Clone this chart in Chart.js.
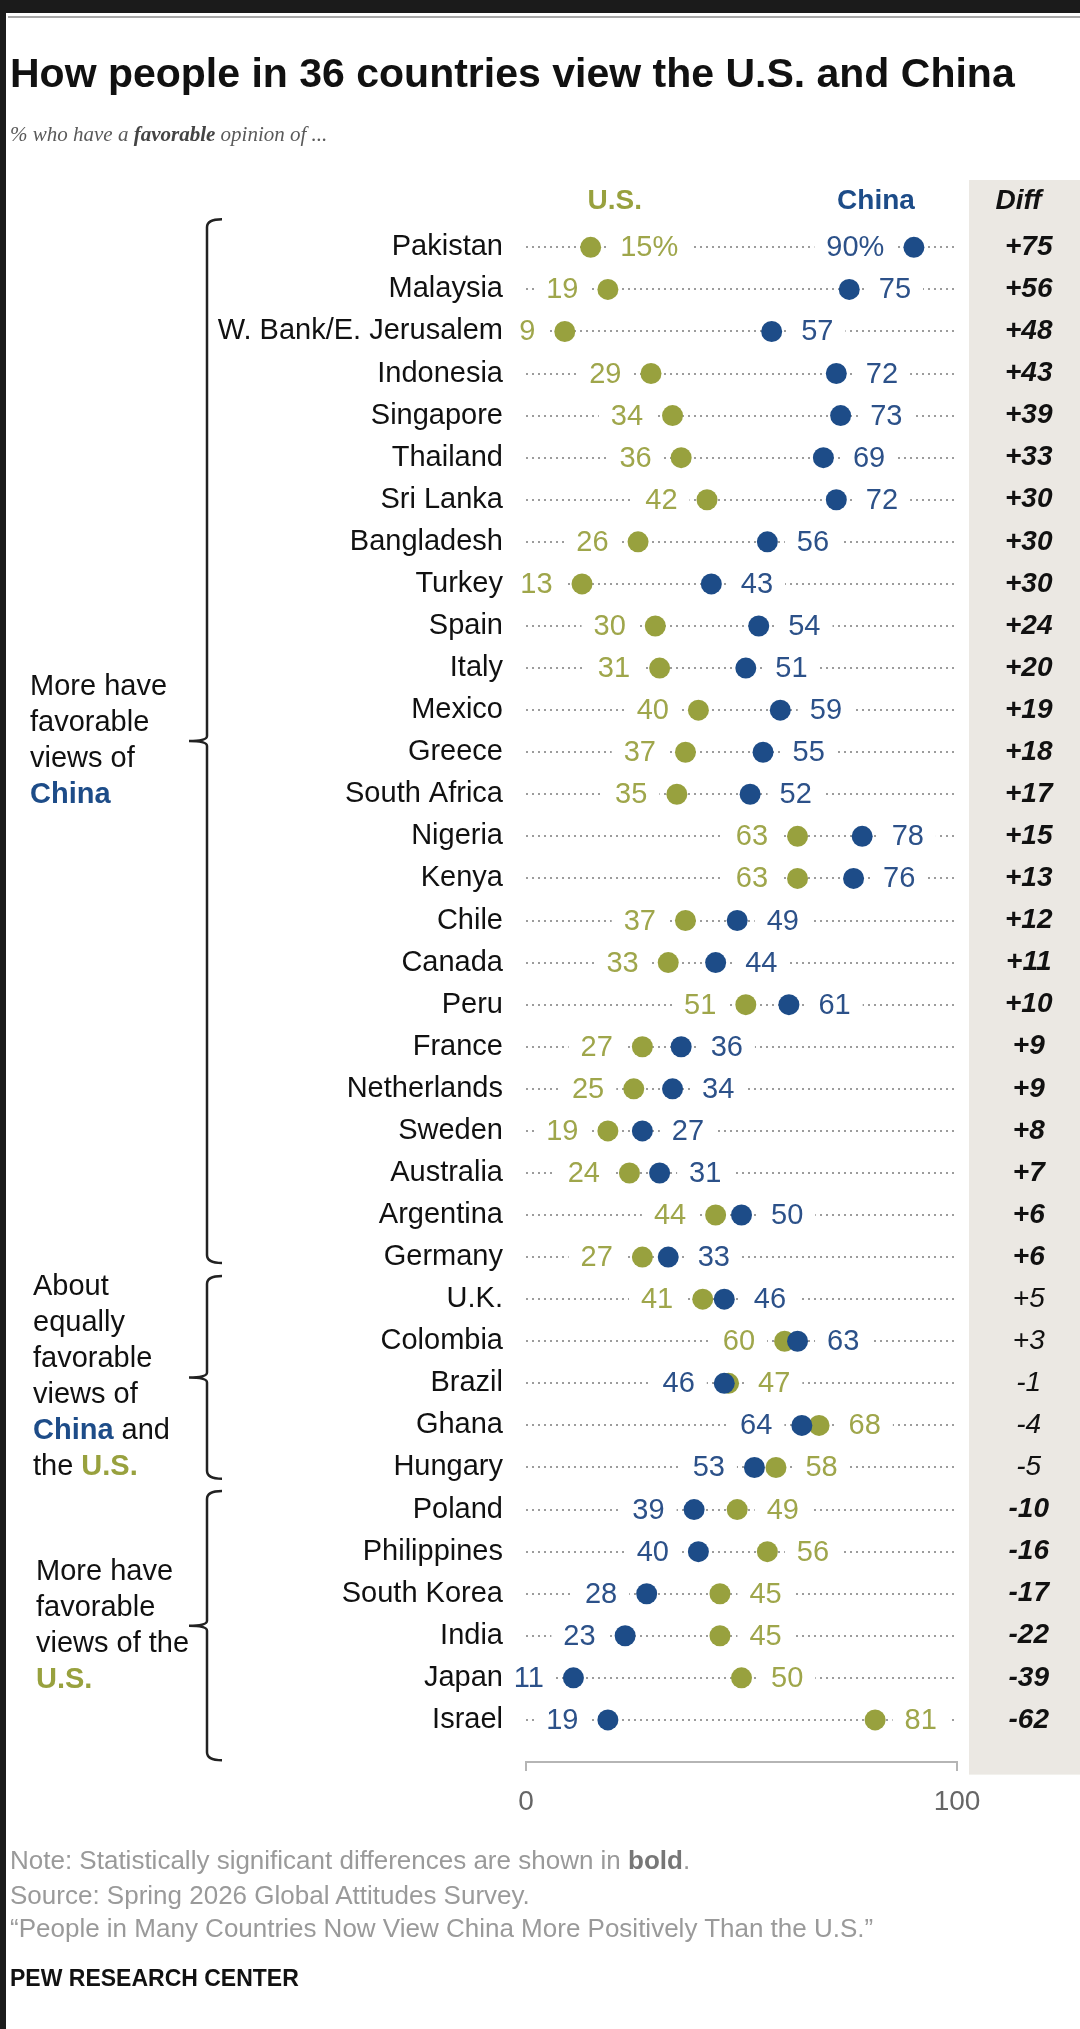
<!DOCTYPE html>
<html>
<head>
<meta charset="utf-8">
<title>How people in 36 countries view the U.S. and China</title>
<script src="https://cdn.jsdelivr.net/npm/chart.js@4.4.1/dist/chart.umd.min.js"></script>
<style>
  body { margin: 0; background: #fff; }
  #wrap { position: relative; width: 1080px; height: 2029px; overflow: hidden; background: #fff;
          font-family: "Liberation Sans", Arial, sans-serif; }
  #chart { position: absolute; left: 0; top: 0; }
  .frame-top { position: absolute; left: 0; top: 0; width: 1080px; height: 13px; background: #1b1b1b; }
  .frame-left { position: absolute; left: 0; top: 0; width: 6px; height: 2029px; background: #1b1b1b; }
  .rule { position: absolute; left: 8px; top: 16px; width: 1072px; height: 2px; background: #a8a8a8; }
  .txt { position: absolute; left: 10px; white-space: nowrap; }
  #title { top: 53px; font-size: 41px; line-height: 41px; font-weight: bold; color: #111; }
  #subtitle { top: 123px; font-family: "Liberation Serif", serif; font-style: italic; font-size: 21px;
              line-height: 22px; color: #5a5a5a; }
  #subtitle b { color: #444; }
  .foot { font-size: 26px; line-height: 26px; color: #9a9a9a; }
  .foot b { color: #777; }
  #pew { top: 1967px; font-size: 23px; line-height: 23px; font-weight: bold; color: #111; }
</style>
</head>
<body>
<div id="wrap">
  <canvas id="chart" width="1080" height="2029"></canvas>
  <div class="frame-top"></div>
  <div class="frame-left"></div>
  <div class="rule"></div>
  <div id="title" class="txt">How people in 36 countries view the U.S. and China</div>
  <div id="subtitle" class="txt">% who have a <b>favorable</b> opinion of ...</div>
  <div class="txt foot" style="top:1847px">Note: Statistically significant differences are shown in <b>bold</b>.</div>
  <div class="txt foot" style="top:1882px">Source: Spring 2026 Global Attitudes Survey.</div>
  <div class="txt foot" style="top:1915px">“People in Many Countries Now View China More Positively Than the U.S.”</div>
  <div id="pew" class="txt">PEW RESEARCH CENTER</div>
</div>
<script>
// data
const countries = ["Pakistan", "Malaysia", "W. Bank/E. Jerusalem", "Indonesia", "Singapore", "Thailand",
  "Sri Lanka", "Bangladesh", "Turkey", "Spain", "Italy", "Mexico", "Greece", "South Africa", "Nigeria",
  "Kenya", "Chile", "Canada", "Peru", "France", "Netherlands", "Sweden", "Australia", "Argentina",
  "Germany", "U.K.", "Colombia", "Brazil", "Ghana", "Hungary", "Poland", "Philippines", "South Korea",
  "India", "Japan", "Israel"];
const usValues = [15, 19, 9, 29, 34, 36, 42, 26, 13, 30, 31, 40, 37, 35, 63, 63, 37, 33, 51, 27, 25, 19, 24, 44,
  27, 41, 60, 47, 68, 58, 49, 56, 45, 45, 50, 81];
const chinaValues = [90, 75, 57, 72, 73, 69, 72, 56, 43, 54, 51, 59, 55, 52, 78, 76, 49, 44, 61, 36, 34, 27, 31, 50,
  33, 46, 63, 46, 64, 53, 39, 40, 28, 23, 11, 19];
const diffLabels = ["+75", "+56", "+48", "+43", "+39", "+33", "+30", "+30", "+30", "+24", "+20", "+19", "+18",
  "+17", "+15", "+13", "+12", "+11", "+10", "+9", "+9", "+8", "+7", "+6", "+6", "+5", "+3", "-1", "-4", "-5",
  "-10", "-16", "-17", "-22", "-39", "-62"];
const diffSignificant = countries.map((c, i) => !(i >= 25 && i <= 29));
const xTicks = [0, 100];

// bracket groups (row units)
const groupTop = [-0.67, 24.45, 29.56];
const groupBottom = [24.14, 29.27, 35.96];
const groupLines = [
  [[["More have"]], [["favorable"]], [["views of"]], [["China", "cn"]]],
  [[["About"]], [["equally"]], [["favorable"]], [["views of"]], [["China", "cn"], [" and"]], [["the "], ["U.S.", "us"]]],
  [[["More have"]], [["favorable"]], [["views of the"]], [["U.S.", "us"]]]
];
const groupX = [30, 33, 36];

const US = "#98a13e", CN = "#1d4c88";
const US_TXT = "#9fa64b", CN_TXT = "#2c5189";
const FONT = '"Liberation Sans", Arial, sans-serif';
const R = 10.5, GAP = 19, PAD = 12;

Chart.defaults.font.family = FONT;

function valueLabels(chart) {
  const { ctx, scales: { x, y } } = chart;
  ctx.font = "29px " + FONT;
  const out = [];
  countries.forEach((c, i) => {
    const us = { v: usValues[i], color: US_TXT };
    const cn = { v: chinaValues[i], color: CN_TXT };
    const lo = us.v <= cn.v ? us : cn;
    const hi = lo === us ? cn : us;
    const inside = i === 0; // first row: % sign, labels between the dots
    const suffix = i === 0 ? "%" : "";
    const yy = y.getPixelForValue(i);
    [[lo, inside ? 1 : -1], [hi, inside ? -1 : 1]].forEach(([it, dir]) => {
      const text = it.v + suffix;
      const w = ctx.measureText(text).width;
      const px = x.getPixelForValue(it.v);
      const left = dir > 0 ? px + R + GAP : px - R - GAP - w;
      out.push({ text, left, y: yy, w, color: it.color });
    });
  });
  return out;
}

const panelPlugin = {
  id: "panel",
  beforeDraw(chart) {
    const { ctx, chartArea, scales: { y } } = chart;
    const top = chartArea.top;
    const bottom = y.getPixelForValue(36.3);
    ctx.save();
    ctx.fillStyle = "#ebe8e3";
    ctx.fillRect(chartArea.right + 12, top, chart.width - chartArea.right - 12, bottom - top);
    ctx.restore();
  }
};

const labelPlugin = {
  id: "labels",
  beforeDatasetsDraw(chart) {
    const { ctx } = chart;
    ctx.save();
    ctx.fillStyle = "#fff";
    valueLabels(chart).forEach(l => ctx.fillRect(l.left - PAD, l.y - 15, l.w + PAD * 2, 30));
    ctx.restore();
  },
  afterDatasetsDraw(chart) {
    const { ctx } = chart;
    ctx.save();
    ctx.font = "29px " + FONT;
    ctx.textBaseline = "middle";
    ctx.textAlign = "left";
    valueLabels(chart).forEach(l => {
      ctx.fillStyle = l.color;
      ctx.fillText(l.text, l.left, l.y + 1);
    });
    ctx.restore();
  },
  afterDraw(chart) {
    const { ctx, chartArea, scales: { x, y } } = chart;
    ctx.save();
    // column headers
    const hy = y.getPixelForValue(-1.1);
    ctx.textBaseline = "middle";
    ctx.textAlign = "center";
    ctx.font = "bold 28px " + FONT;
    ctx.fillStyle = US;
    ctx.fillText("U.S.", x.getPixelForValue(20.6), hy);
    ctx.fillStyle = CN;
    ctx.fillText("China", x.getPixelForValue(81.2), hy);
    ctx.fillStyle = "#111";
    ctx.font = "italic bold 28px " + FONT;
    ctx.fillText("Diff", (chartArea.right + 12 + chart.width) / 2 - 6, hy);

    // brackets
    ctx.strokeStyle = "#222";
    ctx.lineWidth = 2.5;
    const bx = 207, ex = 222, tx = 189;
    groupTop.forEach((g, k) => {
      const t = y.getPixelForValue(g);
      const b = y.getPixelForValue(groupBottom[k]);
      const m = (t + b) / 2;
      ctx.beginPath();
      ctx.moveTo(ex, t);
      ctx.quadraticCurveTo(bx, t, bx, t + 8);
      ctx.lineTo(bx, m - 5);
      ctx.quadraticCurveTo(bx, m, tx, m);
      ctx.quadraticCurveTo(bx, m, bx, m + 5);
      ctx.lineTo(bx, b - 8);
      ctx.quadraticCurveTo(bx, b, ex, b);
      ctx.stroke();

      // group label
      const lines = groupLines[k];
      const step = 36;
      const y0 = m - (lines.length - 1) / 2 * step;
      ctx.textAlign = "left";
      lines.forEach((segs, li) => {
        let cx = groupX[k];
        segs.forEach(([t2, col]) => {
          ctx.font = (col ? "bold " : "") + "29px " + FONT;
          ctx.fillStyle = col === "cn" ? CN : col === "us" ? US : "#111";
          ctx.fillText(t2, cx, y0 + li * step);
          cx += ctx.measureText(t2).width;
        });
      });
    });
    ctx.restore();
  }
};

const pointStyle = color => ({
  pointRadius: R, pointHoverRadius: R, pointBackgroundColor: color,
  pointBorderWidth: 0, borderWidth: 0, showLine: false
});

new Chart(document.getElementById("chart").getContext("2d"), {
  type: "scatter",
  data: {
    datasets: [
      Object.assign({ label: "China", data: chinaValues.map((v, i) => ({ x: v, y: i })) }, pointStyle(CN)),
      Object.assign({ label: "U.S.", data: usValues.map((v, i) => ({ x: v, y: i })) }, pointStyle(US))
    ]
  },
  options: {
    responsive: false,
    animation: false,
    layout: { padding: { top: 180, bottom: 207, left: 0, right: 0 } },
    plugins: { legend: { display: false }, tooltip: { enabled: false } },
    scales: {
      x: {
        type: "linear", position: "bottom", min: 0, max: 100,
        afterBuildTicks: a => { a.ticks = xTicks.map(v => ({ value: v })); },
        afterFit: a => { a.height = 60; },
        grid: { drawOnChartArea: false, drawTicks: true, tickLength: 9, color: "#b5b5b5", lineWidth: 2 },
        border: { display: true, color: "#b5b5b5", width: 2 },
        ticks: { padding: 14, color: "#666", font: { size: 28 } }
      },
      y: {
        type: "linear", position: "left", reverse: true, min: -1.6, max: 36,
        afterBuildTicks: a => { a.ticks = countries.map((c, i) => ({ value: i })); },
        afterFit: a => { a.width = 526; },
        grid: { color: "#9c9c9c", lineWidth: 2, drawTicks: false },
        border: { display: false, dash: [2, 4] },
        ticks: { autoSkip: false, padding: 23, color: "#111", font: { size: 29 },
                 callback: (v, i) => countries[i] }
      },
      diff: {
        type: "linear", position: "right", reverse: true, min: -1.6, max: 36,
        afterBuildTicks: a => { a.ticks = countries.map((c, i) => ({ value: i })); },
        afterFit: a => { a.width = 123; },
        grid: { display: false, drawTicks: false },
        border: { display: false },
        ticks: {
          autoSkip: false, crossAlign: "center", padding: 48, color: "#111",
          font: c => ({ size: 28, style: "italic", weight: diffSignificant[c.index] ? "bold" : "normal" }),
          callback: (v, i) => diffLabels[i]
        }
      }
    }
  },
  plugins: [panelPlugin, labelPlugin]
});
</script>
</body>
</html>
